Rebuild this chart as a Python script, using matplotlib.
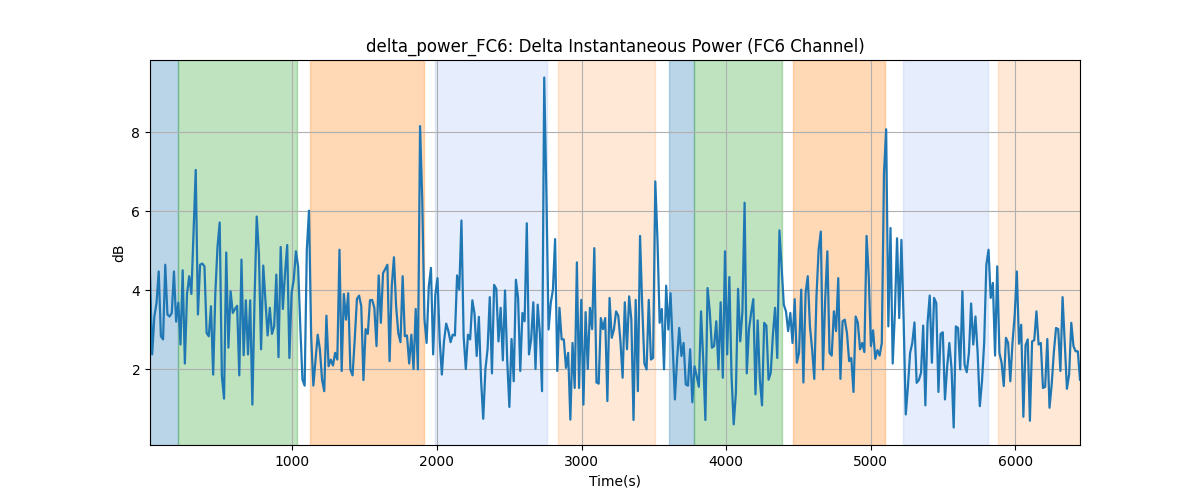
import numpy as np
import matplotlib
matplotlib.use("Agg")
import matplotlib.pyplot as plt

# delta power (dB), one sample every ~15 s
delta_db = [
    4.35, 2.37, 3.33, 3.67, 4.47, 2.83, 2.75, 4.64, 3.38, 3.33, 3.42, 4.47, 3.2, 3.68, 2.62, 4.5, 2.14, 3.9,
    4.35, 3.9, 5.44, 7.04, 3.38, 4.64, 4.67, 4.6, 2.91, 2.83, 3.59, 1.86, 3.92, 5.1, 5.71, 1.82, 1.25, 4.95,
    2.54, 3.97, 3.42, 3.52, 3.6, 1.84, 4.77, 2.35, 3.74, 2.37, 3.74, 1.1, 3.75, 5.86, 4.93, 2.5, 4.62,
    3.75, 2.85, 3.55, 2.89, 3.08, 4.39, 2.3, 5.09, 3.52, 4.43, 5.14, 2.28, 3.92, 4.26, 4.98, 4.6, 3.08, 1.73,
    1.58, 5.02, 6.01, 2.83, 1.58, 2.24, 2.87, 2.5, 1.73, 1.44, 3.35, 2.07, 2.24, 2.09, 2.41, 2.24, 5.02, 1.95,
    3.9, 3.25, 3.92, 1.99, 1.84, 2.75, 3.77, 3.86, 3.59, 1.72, 3.01, 2.89, 3.74, 3.75, 3.55, 2.58, 4.37,
    3.17, 4.43, 4.53, 4.64, 2.2, 4.09, 4.83, 3.59, 2.91, 2.68, 4.35, 2.83, 2.85, 2.14, 2.87, 2.0, 3.52, 1.99,
    8.15, 6.28, 3.27, 2.66, 4.09, 4.56, 2.37, 3.88, 4.3, 2.75, 1.86, 2.71, 3.15, 2.96, 2.68, 2.87, 2.85, 4.37,
    4.01, 5.76, 2.83, 2.0, 2.87, 2.75, 3.74, 3.4, 2.33, 3.32, 1.73, 0.74, 1.99, 2.51, 3.82, 1.89, 4.13,
    4.03, 2.7, 3.55, 2.22, 3.99, 2.24, 1.04, 2.76, 1.69, 4.26, 3.8, 1.95, 3.42, 3.21, 5.69, 2.37, 2.75, 3.69,
    2.0, 3.63, 2.91, 1.44, 9.38, 6.45, 3.0, 3.67, 4.01, 5.29, 1.95, 3.55, 2.75, 2.75, 2.03, 2.41, 0.72, 2.66,
    1.52, 4.7, 1.52, 3.75, 1.1, 3.44, 2.0, 3.55, 3.01, 5.06, 1.66, 1.63, 3.29, 3.01, 3.29, 1.19, 3.8,
    2.79, 3.0, 3.46, 3.35, 2.7, 1.78, 3.69, 2.5, 3.84, 3.25, 0.71, 3.75, 1.44, 5.37, 3.59, 2.14, 1.99, 3.75,
    2.24, 2.28, 6.75, 5.27, 3.17, 3.52, 1.99, 4.11, 3.0, 3.92, 2.58, 1.23, 2.24, 3.04, 2.33, 2.66, 1.61, 1.58,
    2.5, 1.16, 2.07, 1.82, 1.55, 3.46, 2.24, 0.71, 4.05, 3.46, 2.54, 2.58, 3.21, 1.99, 3.69, 1.78, 4.98, 2.37,
    4.33, 1.82, 0.6, 1.4, 4.03, 2.7, 3.46, 6.21, 1.89, 3.0, 3.42, 3.77, 1.36, 3.23, 1.75, 1.08, 3.17, 3.1,
    1.73, 1.9, 2.87, 3.55, 2.28, 5.51, 4.56, 3.63, 3.46, 2.96, 3.42, 2.66, 3.77, 2.16, 2.41, 4.01, 1.66, 3.92,
    4.35, 3.08, 2.5, 1.75, 3.84, 5.02, 5.48, 1.99, 3.75, 4.98, 2.41, 2.34, 3.46, 2.96, 4.3, 1.75, 3.21, 3.25,
    2.91, 2.2, 2.28, 1.42, 3.33, 3.17, 2.5, 2.66, 2.43, 5.37, 4.35, 2.58, 2.98, 2.26, 2.48, 2.34, 2.66, 6.96,
    8.07, 3.08, 5.57, 2.14, 3.42, 5.31, 3.29, 5.27, 3.29, 0.85, 1.56, 2.41, 2.66, 3.18, 1.65, 1.72, 1.9, 3.1,
    1.08, 3.17, 3.86, 2.16, 3.8, 3.67, 1.42, 2.89, 2.93, 1.23, 2.05, 2.66, 2.03, 0.52, 3.08, 3.04, 1.99, 3.97,
    2.11, 1.92, 2.41, 3.66, 2.62, 3.33, 2.41, 1.06, 1.69, 2.66, 4.64, 5.02, 3.8, 4.18, 2.34, 4.6, 2.41, 2.16,
    1.57, 2.79, 2.66, 1.69, 2.66, 3.35, 4.47, 2.64, 3.12, 0.79, 2.6, 2.75, 0.69, 2.7, 2.73, 3.46, 2.62, 2.66,
    1.52, 1.55, 2.76, 1.02, 1.61, 2.43, 3.04, 3.01, 1.95, 3.82, 2.66, 1.5, 1.86, 3.17, 2.58, 2.45, 2.45, 1.73,
]
t_start = 15
t_end = 6448
time_s = np.linspace(t_start, t_end, len(delta_db))

# shaded segments (start, end, colour, alpha)
seg_start = [15, 212, 1125, 1985, 2837, 3607, 3778, 4463, 5224, 5882]
seg_end = [212, 1033, 1907, 2758, 3506, 3778, 4385, 5098, 5810, 6448]
seg_color = ['tab:blue', 'tab:green', 'tab:orange', 'cornflowerblue', 'tab:orange',
             'tab:blue', 'tab:green', 'tab:orange', 'cornflowerblue', 'tab:orange']
seg_alpha = [0.3, 0.3, 0.3, 0.16, 0.17, 0.3, 0.3, 0.3, 0.16, 0.17]

fig, ax = plt.subplots(figsize=(12, 5), dpi=100)
for s, e, c, a in zip(seg_start, seg_end, seg_color, seg_alpha):
    ax.axvspan(s, e, color=c, alpha=a)

ax.plot(time_s, delta_db, color='tab:blue', linewidth=1.6)
ax.set_xlim(t_start, t_end)
ax.grid(True)
ax.set_xlabel('Time(s)')
ax.set_ylabel('dB')
ax.set_title('delta_power_FC6: Delta Instantaneous Power (FC6 Channel)')

plt.savefig('out.png')
